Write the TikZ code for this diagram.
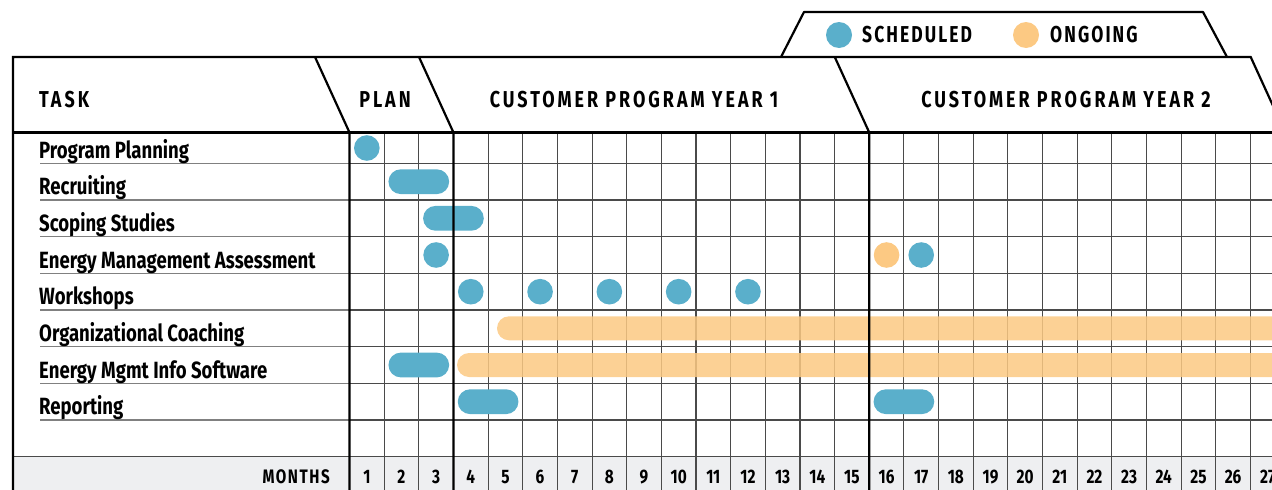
\documentclass[tikz,border=0pt]{standalone}
\usepackage{fontspec}
\setmainfont{Fira Sans}[FakeStretch=0.79]
\newfontfamily\hdrfont{Fira Sans}[FakeStretch=0.78,LetterSpace=13]
\newfontfamily\lgdfont{Fira Sans}[FakeStretch=0.76,LetterSpace=9]
\newfontfamily\mthfont{Fira Sans}[FakeStretch=0.78,LetterSpace=8]
\usetikzlibrary{positioning}
\definecolor{schedblue}{HTML}{5AAFCB}
\definecolor{ongoorange}{HTML}{FCC983}
\definecolor{monthgray}{HTML}{EEEFF1}
\definecolor{gridgray}{HTML}{4A4A4A}
\newcommand{\hdr}[1]{{\hdrfont\bfseries\fontsize{23}{23}\selectfont #1}}
\newcommand{\lgd}[1]{{\lgdfont\bfseries\fontsize{23}{23}\selectfont #1}}
\newcommand{\tsk}[1]{{\bfseries\fontsize{23.5}{23.5}\selectfont #1}}
\newcommand{\mth}[1]{{\bfseries\fontsize{19.5}{19.5}\selectfont #1}}
% dot in column #1 of the row at height #2
\newcommand{\dotat}[3]{\fill[#3] ({349.5+(#1-0.5)*34.65},#2) circle (12.8);}
% scheduled bar over columns #1 to #2
\newcommand{\pill}[3]{\fill[schedblue,rounded corners=12.4pt] ({349.5+(#1-1)*34.65+4.3},#3-12.4) rectangle ({349.5+#2*34.65-4.3},#3+12.4);}

\begin{document}
\begin{tikzpicture}[x=1pt,y=-1pt,
  frame/.style={line width=2.2pt,black},
  thin grid/.style={line width=1.1pt,gridgray},
  underline/.style={line width=1.4pt,black!50}]
\useasboundingbox (0,0) rectangle (1272,490);

% months row
\fill[monthgray] (13,456.7) rectangle (1272,490);

% grid
\foreach \n in {2,3,5,6,...,15,17,18,...,27}
  \draw[thin grid] ({349.5+(\n-1)*34.65},132.5) -- ({349.5+(\n-1)*34.65},490);
\foreach \k in {0,...,8}
  \draw[thin grid] (349.5,163.3+\k*36.67) -- (1272,163.3+\k*36.67);
\foreach \k in {0,...,7}
  \draw[underline] (40,163.3+\k*36.67) -- (349.5,163.3+\k*36.67);
\draw[thin grid] (13,456.7) -- (349.5,456.7);

% ongoing bars
\fill[ongoorange,fill opacity=0.85,rounded corners=12pt] (497,316.3) rectangle (1295,340.3);
\fill[ongoorange,fill opacity=0.85,rounded corners=12pt] (457,353) rectangle (1295,377);

% scheduled
\dotat{1}{148}{schedblue}
\pill{2}{3}{181.7}
\pill{3}{4}{218.3}
\dotat{3}{255}{schedblue}
\dotat{16}{255}{ongoorange}
\dotat{17}{255}{schedblue}
\dotat{4}{291.7}{schedblue}
\dotat{6}{291.7}{schedblue}
\dotat{8}{291.7}{schedblue}
\dotat{10}{291.7}{schedblue}
\dotat{12}{291.7}{schedblue}
\pill{2}{3}{365}
\pill{4}{5}{401.7}
\pill{16}{17}{401.7}

% frame and header tabs
\draw[frame] (13,490) -- (13,57) -- (1250.7,57) -- (1285.2,132.5);
\draw[frame] (13,132.5) -- (1272,132.5);
\draw[frame] (315,57) -- (349.5,132.5) -- (349.5,490);
\draw[frame] (419,57) -- (453.45,132.5) -- (453.45,490);
\draw[frame] (834.75,57) -- (869.25,132.5) -- (869.25,490);
%\draw[frame] (1285.2,132.5) -- (1285.2,490);

% legend tab
\draw[frame,line join=round] (781,57) -- (804,12) -- (1203,12) -- (1227,57);
\fill[schedblue] (839,35) circle (13);
\fill[ongoorange] (1026,35) circle (13);
\draw(862,35) node[anchor=west,inner sep=0] (sched) {\lgd{SCHEDULED}};
\draw(1050,35) node[anchor=west,inner sep=0] (ongo) {\lgd{ONGOING}};

% headers
\draw(39,100) node[anchor=west,inner sep=0] (task) {\hdr{TASK}};
\draw(385,100) node[inner sep=0] (plan) {\hdr{PLAN}};
\draw(634,100) node[inner sep=0] (yr1) {\hdr{CUSTOMER PROGRAM YEAR 1}};
\draw(1066,100) node[inner sep=0] (yr2) {\hdr{CUSTOMER PROGRAM YEAR 2}};

% tasks
\draw(39,158) node[anchor=base west,inner sep=0] (t1) {\tsk{Program Planning}};
\draw(39,194.7) node[anchor=base west,inner sep=0] (t2) {\tsk{Recruiting}};
\draw(39,231.3) node[anchor=base west,inner sep=0] (t3) {\tsk{Scoping Studies}};
\draw(39,268) node[anchor=base west,inner sep=0] (t4) {\tsk{Energy Management Assessment}};
\draw(39,304.7) node[anchor=base west,inner sep=0] (t5) {\tsk{Workshops}};
\draw(39,341.3) node[anchor=base west,inner sep=0] (t6) {\tsk{Organizational Coaching}};
\draw(39,378) node[anchor=base west,inner sep=0] (t7) {\tsk{Energy Mgmt Info Software}};
\draw(39,414.7) node[anchor=base west,inner sep=0] (t8) {\tsk{Reporting}};

% months
\draw(330,477) node[anchor=east,inner sep=0] (months) {{\mthfont\mth{MONTHS}}};
\foreach \n in {1,...,27}
  \draw({349.5+(\n-0.5)*34.65},477) node[inner sep=0] (m\n) {\mth{\n}};
\end{tikzpicture}
\end{document}
